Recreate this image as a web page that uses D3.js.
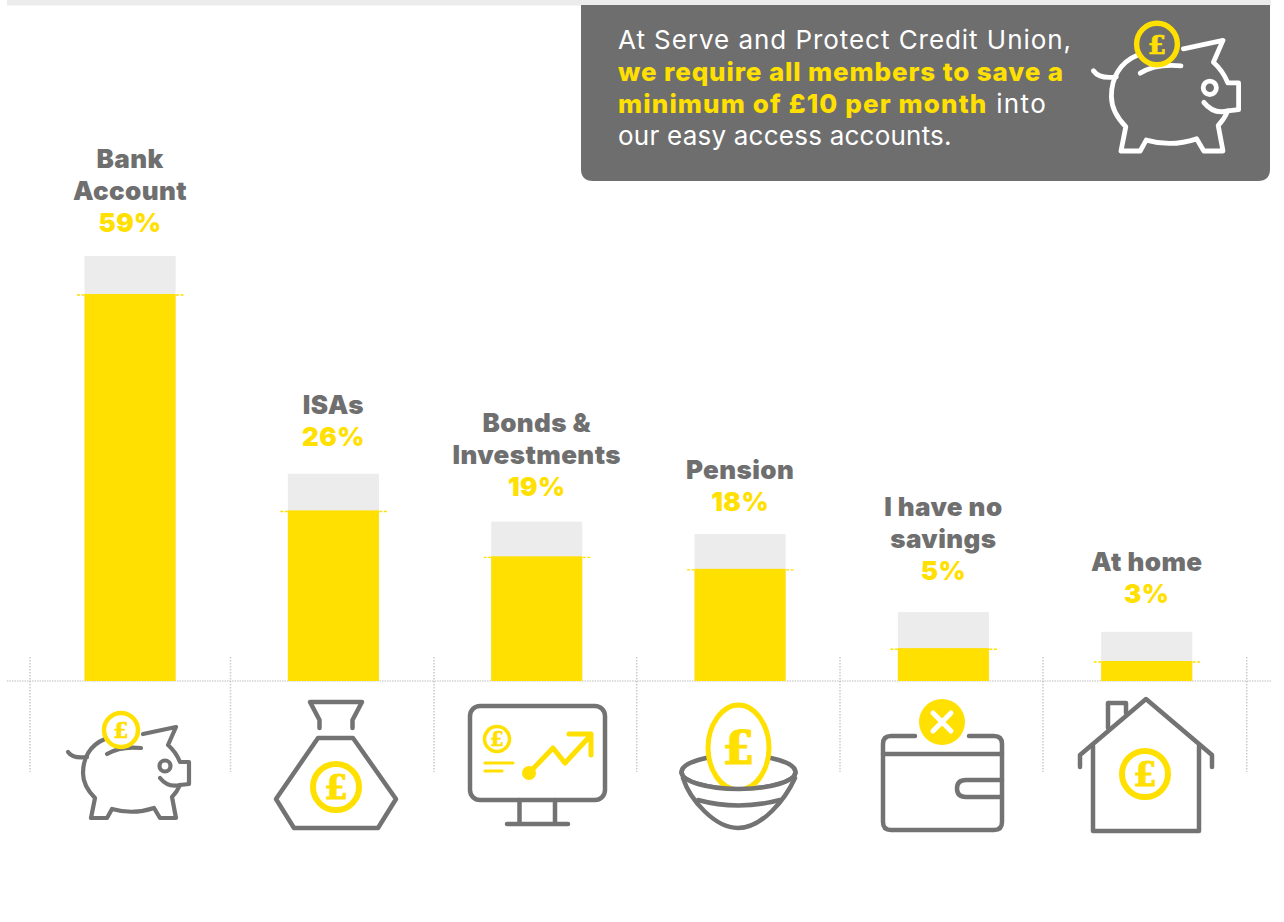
<!DOCTYPE html>
<html>
<head>
<meta charset="utf-8">
<script src="https://cdn.jsdelivr.net/npm/d3@7"></script>
<style>
  html, body { margin: 0; padding: 0; background: #fff; }
  svg { display: block; }
  text { font-family: Inter, "Open Sans", sans-serif; }
</style>
</head>
<body>
<div id="chart"></div>
<script>
// Savings chart

// data
var categories = ["Bank Account", "ISAs", "Bonds & Investments", "Pension", "I have no savings", "At home"];
var labelLines = [["Bank", "Account"], ["ISAs"], ["Bonds &", "Investments"], ["Pension"], ["I have no", "savings"], ["At home"]];
var percentLabels = ["59%", "26%", "19%", "18%", "5%", "3%"];
var barValues = [59, 26, 19, 17.1, 5, 3.05];   // height as drawn (the pension bar sits short of its label)
var backValues = [64.8, 31.6, 24.3, 22.4, 10.5, 7.5];   // grey block behind each bar

var calloutLines = [
  [["At Serve and Protect Credit Union,", false]],
  [["we require all members to save a", true]],
  [["minimum of £10 per month", true], [" into", false]],
  [["our easy access accounts.", false]]
];

var width = 1284
var height = 922
var yellow = "#ffe000"
var grey = "#737373"
var panel = "#6e6e6e"

var svg = d3.select("#chart")
  .append("svg")
    .attr("width", width)
    .attr("height", height)

// scales
var x = d3.scaleBand()
  .domain(categories)
  .range([28.4, 1248.4])
  .paddingInner(0.552)
  .paddingOuter(0.276)

var y = d3.scaleLinear()
  .domain([0, 59])
  .range([681, 294])

// column separators are not quite evenly spaced in the original
var sepX = [30, 230.5, 434, 636.7, 840, 1043, 1246.7]

// top strip
svg.append("rect").attr("x", 7).attr("y", 0).attr("width", 1264).attr("height", 5.5).attr("fill", "#ececec")

// dotted guides
svg.append("g").selectAll("line")
  .data(sepX)
  .enter().append("line")
    .attr("x1", function(d) { return d })
    .attr("x2", function(d) { return d })
    .attr("y1", 657)
    .attr("y2", 772)
    .attr("stroke", "#cacaca")
    .attr("stroke-width", 1.5)
    .attr("stroke-dasharray", "1.5 1.5")
svg.append("line")
  .attr("x1", 7).attr("x2", 1271)
  .attr("y1", 681).attr("y2", 681)
  .attr("stroke", "#bdbdbd")
  .attr("stroke-dasharray", "1.5 1")

// grey blocks
svg.append("g").selectAll("rect")
  .data(categories)
  .enter().append("rect")
    .attr("x", function(d) { return x(d) })
    .attr("y", function(d, i) { return y(backValues[i]) })
    .attr("width", x.bandwidth())
    .attr("height", function(d, i) { return y(0) - y(backValues[i]) })
    .attr("fill", "#ececec")

// yellow bars
svg.append("g").selectAll("rect")
  .data(categories)
  .enter().append("rect")
    .attr("x", function(d) { return x(d) })
    .attr("y", function(d, i) { return y(barValues[i]) })
    .attr("width", x.bandwidth())
    .attr("height", function(d, i) { return y(0) - y(barValues[i]) })
    .attr("fill", yellow)

// little dashed tick at the top of each bar
svg.append("g").selectAll("line")
  .data(categories)
  .enter().append("line")
    .attr("x1", function(d) { return x(d) - 7.5 })
    .attr("x2", function(d) { return x(d) + x.bandwidth() + 8 })
    .attr("y1", function(d, i) { return y(barValues[i]) + 1 })
    .attr("y2", function(d, i) { return y(barValues[i]) + 1 })
    .attr("stroke", yellow)
    .attr("stroke-width", 1.4)
    .attr("stroke-dasharray", "3 1.5")

// labels, lifted by hand above the grey blocks
var labelLift = [24, 28, 26, 23, 32, 29]
var labels = svg.append("g").selectAll("text")
  .data(categories)
  .enter().append("text")
    .attr("text-anchor", "middle")
    .attr("font-size", 26)
    .attr("font-weight", 900)
    .attr("letter-spacing", 0.4)
    .attr("x", function(d) { return x(d) + x.bandwidth() / 2 })
    .attr("y", function(d, i) { return y(backValues[i]) - labelLift[i] - 32 * labelLines[i].length })
labels.each(function(d, i) {
  var t = d3.select(this)
  var cx = x(d) + x.bandwidth() / 2
  labelLines[i].forEach(function(line) {
    t.append("tspan").attr("x", cx).attr("dy", 32 - (line === labelLines[i][0] ? 32 : 0)).attr("fill", "#6f6f6f").text(line)
  })
  t.append("tspan").attr("x", cx).attr("dy", 32).attr("fill", yellow).text(percentLabels[i])
})

// callout panel
svg.append("path")
  .attr("d", "M581,5 H1270 V169 Q1270,181 1258,181 H593 Q581,181 581,169 Z")
  .attr("fill", panel)

// per run tracking so the lines end where the original's do
var calloutTracking = [[0.95], [0.88], [1.13, 1.4], [0.23]]
var callout = svg.append("g").selectAll("text")
  .data(calloutLines)
  .enter().append("text")
    .attr("x", 618)
    .attr("y", function(d, i) { return 49 + i * 32 })
    .attr("font-size", 26)
callout.each(function(line, i) {
  var t = d3.select(this)
  line.forEach(function(run, j) {
    t.append("tspan")
      .style("white-space", "pre")
      .attr("fill", run[1] ? yellow : "#fff")
      .attr("font-weight", run[1] ? 800 : 400)
      .attr("letter-spacing", calloutTracking[i][j])
      .text(run[0])
  })
})

// icons
function coin(g, cx, cy, r, sw, size, fill) {
  g.append("circle")
    .attr("cx", cx).attr("cy", cy).attr("r", r)
    .attr("fill", fill).attr("stroke", yellow).attr("stroke-width", sw)
  pound(g, cx, cy, size)
}
function pound(g, cx, cy, size) {
  g.append("text")
    .attr("x", cx).attr("y", cy + size * 0.36)
    .attr("text-anchor", "middle")
    .attr("font-size", size)
    .attr("font-weight", 700)
    .style("font-family", "'DejaVu Serif', serif")
    .attr("fill", yellow)
    .attr("stroke", yellow)
    .attr("stroke-width", size * 0.025)
    .text("£")
}
function outlined(g, color, sw) {
  return g.append("g")
    .attr("fill", "none")
    .attr("stroke", color)
    .attr("stroke-width", sw)
    .attr("stroke-linecap", "round")
    .attr("stroke-linejoin", "round")
}
function pig(g, color, sw, coinFill) {
  var o = outlined(g, color, sw)
  o.append("path").attr("d", "M68,752 Q73,759 87,757")
  o.append("path").attr("d", "M105,739 C90,745 83,758 83,773 C83,783 88,791 95,798 L91,818 L107,818 L112,809 Q133,815 154,808 L160,818 L176,818 L172,797 Q177,792 180,785 L189,784 L189,762 L180,762 Q176,752 168,745 L176,727 L143,734")
  o.append("path").attr("d", "M160,778 Q168,788 180,785")
  o.append("circle").attr("cx", 165).attr("cy", 766).attr("r", 5.5)
  o.append("path").attr("d", "M107,754 Q120,746 141,748")
  coin(g, 121, 730, 17, 4.5, 22, coinFill)
}

var icons = svg.append("g")
var ink = outlined(icons, grey, 4.5)

// piggy bank
pig(icons.append("g"), grey, 4.2, "#fff")

// money bag
ink.append("path").attr("d", "M319.5,728 V720 L310,702 H362 L352.5,720 V728")
ink.append("path").attr("d", "M318,738 H353 L396,799 L378,828 H294 L276,799 Z")
coin(icons, 336, 787, 23, 6, 34, "#fff")

// monitor
ink.append("rect").attr("x", 470).attr("y", 706).attr("width", 135).attr("height", 94).attr("rx", 10)
ink.append("path").attr("d", "M519.5,800 V824 M555,800 V824 M507,824 H568")
var chartInk = outlined(icons, yellow, 5)
chartInk.append("path").attr("d", "M529,773 L553,748 L565,763 L591,735 M569,734 H591 V755")
icons.append("circle").attr("cx", 529).attr("cy", 773).attr("r", 7).attr("fill", yellow)
coin(icons, 497, 739, 12.5, 3.5, 20, "#fff")
var noteInk = outlined(icons, yellow, 3.2)
noteInk.append("path").attr("d", "M485,763 H513 M485,771 H502")

// egg in a bowl
ink.append("ellipse").attr("cx", 738.5).attr("cy", 772).attr("rx", 57).attr("ry", 17)
icons.append("path")
  .attr("d", "M738.5,705 C755,705 769,725 769,748 C769,768 757,790 738.5,790 C720,790 708,768 708,748 C708,725 722,705 738.5,705 Z")
  .attr("fill", "#fff").attr("stroke", yellow).attr("stroke-width", 5)
pound(icons, 738.5, 747, 46)
icons.append("path").attr("d", "M681.5,772 A57,17 0 0 0 795.5,772 L780,815 H698 Z").attr("fill", "#fff")
var bowl = outlined(icons, grey, 4.5)
bowl.append("path").attr("d", "M681.5,772 A57,17 0 0 0 795.5,772")
bowl.append("path").attr("d", "M683,778 C690,800 715,828 738,828 C762,828 785,800 795,778")
bowl.append("path").attr("d", "M698,800 Q738,811 780,800")

// wallet
ink.append("path").attr("d", "M915,736 H891 Q883,736 883,744 V822 Q883,830 891,830 H994 Q1002,830 1002,822 V744 Q1002,736 994,736 H969")
ink.append("path").attr("d", "M883,754 H1002 M1002,780 H966 Q957,780 957,788.5 Q957,797 966,797 H1002")
icons.append("circle").attr("cx", 942).attr("cy", 722).attr("r", 23).attr("fill", yellow)
outlined(icons, "#fff", 5).append("path").attr("d", "M933,713 L951,731 M951,713 L933,731")

// house
ink.append("path").attr("d", "M1080,767 V755 L1146,699 L1212,755 V767")
ink.append("path").attr("d", "M1093,746 V831 H1199 V746")
ink.append("path").attr("d", "M1108,728 V703 H1126 V713")
coin(icons, 1145, 774, 23, 6, 34, "#fff")

// white pig in the panel
pig(svg.append("g").attr("transform", "translate(1157,44) scale(1.2,1.216) translate(-121,-730)"), "#fff", 4, panel)
</script>
</body>
</html>
